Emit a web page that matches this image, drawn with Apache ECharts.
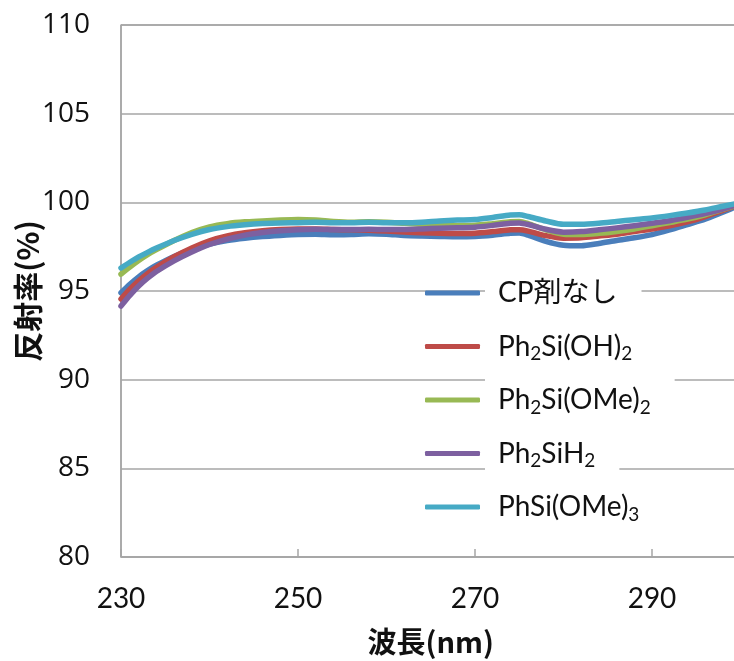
<!DOCTYPE html>
<html>
<head>
<meta charset="utf-8">
<script src="https://cdn.jsdelivr.net/npm/echarts@6/dist/echarts.min.js"></script>
<style>
  html, body { margin: 0; padding: 0; background: #fff; }
  #chart { width: 734px; height: 661px; }
</style>
</head>
<body>
<div id="chart"></div>
<script>
// Wavelength (nm)
const wavelengths = [230, 231, 232, 233, 234, 236, 238, 240, 242, 244, 246, 248, 250, 252, 254, 256, 258, 260, 262, 264, 266, 268, 270, 272, 274, 275, 276, 278, 280, 282, 284, 286, 288, 290, 292, 294, 296, 298, 300];

// Reflectance (%) per coupling agent
const noAgent = [94.9, 95.38, 95.8, 96.15, 96.45, 96.95, 97.35, 97.65, 97.85, 97.98, 98.07, 98.13, 98.18, 98.2, 98.17, 98.18, 98.23, 98.2, 98.13, 98.1, 98.08, 98.06, 98.08, 98.15, 98.25, 98.27, 98.15, 97.8, 97.58, 97.55, 97.68, 97.85, 98.0, 98.18, 98.45, 98.75, 99.05, 99.45, 99.85];
const ph2SiOH2 = [94.55, 95.1, 95.58, 95.98, 96.33, 96.93, 97.43, 97.83, 98.1, 98.28, 98.4, 98.47, 98.5, 98.5, 98.47, 98.45, 98.42, 98.38, 98.32, 98.28, 98.25, 98.24, 98.26, 98.35, 98.45, 98.46, 98.38, 98.12, 97.98, 98.0, 98.1, 98.2, 98.35, 98.5, 98.68, 98.9, 99.2, 99.55, 99.9];
const ph2SiOMe2 = [95.95, 96.35, 96.72, 97.05, 97.33, 97.85, 98.3, 98.62, 98.8, 98.9, 98.95, 99.0, 99.03, 99.0, 98.92, 98.88, 98.9, 98.88, 98.82, 98.76, 98.72, 98.69, 98.71, 98.8, 98.9, 98.92, 98.8, 98.45, 98.2, 98.18, 98.25, 98.36, 98.5, 98.68, 98.86, 99.05, 99.3, 99.6, 99.9];
const ph2SiH2 = [94.15, 94.75, 95.28, 95.72, 96.1, 96.7, 97.2, 97.62, 97.93, 98.15, 98.3, 98.4, 98.46, 98.48, 98.47, 98.47, 98.48, 98.47, 98.47, 98.5, 98.54, 98.56, 98.6, 98.7, 98.82, 98.84, 98.75, 98.48, 98.32, 98.35, 98.45, 98.56, 98.68, 98.82, 98.96, 99.15, 99.36, 99.62, 99.92];
const phSiOMe3 = [96.3, 96.62, 96.92, 97.18, 97.42, 97.85, 98.2, 98.47, 98.63, 98.73, 98.8, 98.84, 98.85, 98.87, 98.85, 98.85, 98.87, 98.85, 98.85, 98.88, 98.95, 99.0, 99.03, 99.15, 99.28, 99.3, 99.2, 98.95, 98.76, 98.76, 98.82, 98.92, 99.02, 99.12, 99.25, 99.4, 99.57, 99.78, 99.98];

const seriesNames = ['CP剤なし', 'Ph2Si(OH)2', 'Ph2Si(OMe)2', 'Ph2SiH2', 'PhSi(OMe)3'];
const seriesValues = [noAgent, ph2SiOH2, ph2SiOMe2, ph2SiH2, phSiOMe3];
const seriesColors = ['#4a7ebb', '#be4b48', '#98b954', '#7d60a0', '#46aac5'];

// Axis ranges and tick spacing
const xMin = 230, xMax = 300, xStep = 20;
const yMin = 80, yMax = 110, yStep = 5;

const latin = 'Lato, "Noto Sans CJK JP", sans-serif';

const chart = echarts.init(document.getElementById('chart'), null, { renderer: 'canvas' });

chart.setOption({
  backgroundColor: '#ffffff',
  animation: false,
  grid: {
    left: 121, top: 25, width: 619.5, height: 532,
    outerBoundsMode: 'none', containLabel: false,
    show: true, borderColor: '#777777', borderWidth: 1, backgroundColor: 'transparent'
  },
  legend: {
    orient: 'vertical',
    left: 420, top: 267,
    itemWidth: 55, itemHeight: 5, itemGap: 11.5,
    icon: 'roundRect',
    data: seriesNames,
    formatter: name => name.replace(/([A-Za-z)])(\d)/g, '$1{sub|$2}'),
    textStyle: {
      fontFamily: latin, fontSize: 28, color: '#111', lineHeight: 34,
      backgroundColor: '#ffffff', padding: [4, 24, 4, 13],
      rich: {
        sub: { fontFamily: latin, fontSize: 19, lineHeight: 20, verticalAlign: 'bottom', color: '#111' }
      }
    }
  },
  xAxis: {
    type: 'value', min: xMin, max: xMax, interval: xStep,
    name: '波長(nm)', nameLocation: 'middle', nameGap: 70, nameMoveOverlap: false,
    nameTextStyle: { fontFamily: '"Noto Sans CJK JP", sans-serif', fontWeight: 'bold', fontSize: 29, color: '#111' },
    axisLine: { show: true, lineStyle: { color: '#a6a6a6', width: 1.5 } },
    axisTick: { show: true, inside: true, length: 8, lineStyle: { color: '#a6a6a6', width: 1.5 } },
    splitLine: { show: false },
    axisLabel: {
      margin: 28, fontFamily: latin, fontSize: 28, color: '#111',
      showMaxLabel: false,
      formatter: v => (v - xMin) % xStep === 0 ? String(v) : ''
    }
  },
  yAxis: {
    type: 'value', min: yMin, max: yMax, interval: yStep,
    name: '反射率(%)', nameLocation: 'middle', nameGap: 78, nameRotate: 90, nameMoveOverlap: false,
    nameTextStyle: { fontFamily: '"Noto Sans CJK JP", sans-serif', fontWeight: 'bold', fontSize: 30, color: '#111' },
    axisLine: { show: true, lineStyle: { color: '#a6a6a6', width: 1.5 } },
    axisTick: { show: false },
    splitLine: { show: true, lineStyle: { color: '#a6a6a6', width: 1.5 } },
    axisLabel: { margin: 31, fontFamily: '"Open Sans", sans-serif', fontSize: 28, color: '#111' }
  },
  series: seriesNames.map((name, i) => ({
    name: name,
    type: 'line',
    data: wavelengths.map((w, j) => [w, seriesValues[i][j]]),
    showSymbol: false,
    symbol: 'none',
    smooth: 0.25,
    lineStyle: { color: seriesColors[i], width: 5.5, cap: 'round', join: 'round' },
    itemStyle: { color: seriesColors[i] },
    z: 2 + i
  }))
});
</script>
</body>
</html>
